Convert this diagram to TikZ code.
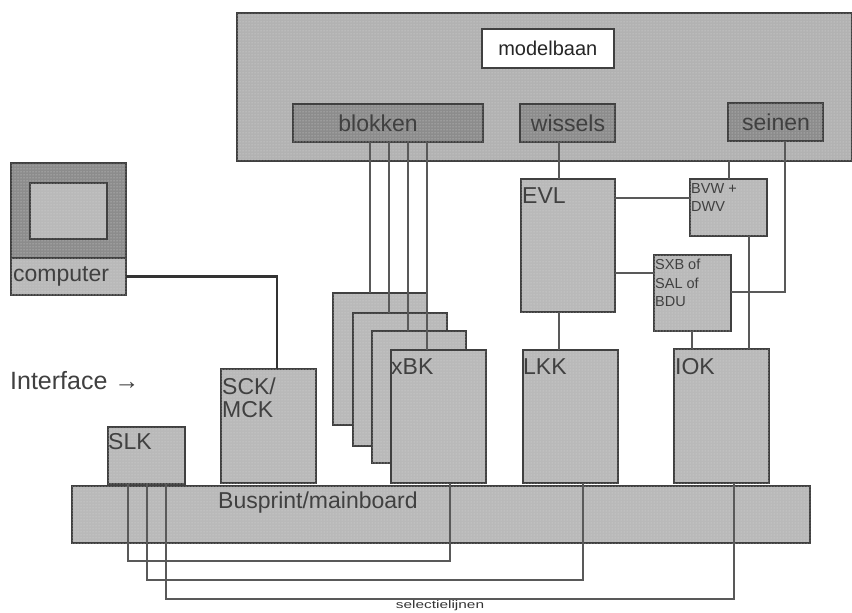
\documentclass[tikz,border=0pt]{standalone}
\usepackage{fontspec}
\setmainfont{Liberation Sans}
\newfontfamily\widefont[FakeStretch=1.4]{Liberation Sans}
\usetikzlibrary{positioning,patterns}

\begin{document}
\begin{tikzpicture}[
        x=1pt, y=-1pt,
        box/.style={draw=black!75, line width=1.6pt, fill=gray!55, anchor=north west, inner sep=0pt, outer sep=0pt,
            postaction={pattern=dots, pattern color=white!70!gray}},
        panel/.style={box, fill=gray!60},
        darkbox/.style={box, fill=gray!90},
        dims/.style 2 args={minimum width=#1 pt, minimum height=#2 pt},
        wire/.style={draw=black!65, line width=1.5pt},
        cable/.style={draw=black!80, line width=2.6pt},
        tag/.style={font=\fontsize{23}{23}\selectfont, text=black!75, inner sep=0pt, align=left},
        smalltag/.style={font=\fontsize{14.5}{18.5}\selectfont, text=black!75, inner sep=0pt, align=left}
    ]
    \useasboundingbox (0,0) rectangle (852,613);

    % --- MODELBAAN ---
    \node[panel, dims={615}{148}] (model) at (237,13) {};
    \node[draw=black!75, line width=1.6pt, fill=white, dims={132}{39}, anchor=north west, inner sep=0pt, tag, font=\fontsize{20}{20}\selectfont, text=black!85] (baan) at (481,28) {modelbaan};
    \node[darkbox, dims={190}{38}] (blokken) at (293,104) {};
    \node[darkbox, dims={95}{38}] (wissels) at (520,104) {};
    \node[darkbox, dims={95}{38}] (seinen) at (728,103) {};
    \node[tag] (blokkentxt) at (378,123) {blokken};
    \node[tag] (wisselstxt) at (568,123) {wissels};
    \node[tag] (seinentxt) at (776,122) {seinen};

    % --- COMPUTER ---
    \node[darkbox, dims={115}{95}] (scherm) at (11,163) {};
    \node[box, dims={77}{56}] (beeld) at (30,183) {};
    \node[box, dims={115}{37}] (computer) at (11,258) {};
    \node[tag, anchor=west] (computertxt) at (13,276) {computer};
    \node[tag, font=\fontsize{25}{25}\selectfont, anchor=west] (interface) at (10,381) {Interface →};

    % --- BUS ---
    \node[box, dims={738}{57}] (bus) at (72,486) {};
    \node[tag, anchor=north west] (bustxt) at (218,492) {Busprint/mainboard};

    % --- KAARTEN ---
    \node[box, dims={77}{57}] (SLK) at (108,427) {};
    \node[box, dims={95}{114}] (SCK) at (221,369) {};
    \node[box, dims={94}{132}] (BK1) at (333,293) {};
    \node[box, dims={94}{133}] (BK2) at (353,313) {};
    \node[box, dims={94}{132}] (BK3) at (372,331) {};
    \node[box, dims={95}{133}] (BK4) at (391,350) {};
    \node[box, dims={95}{133}] (LKK) at (523,350) {};
    \node[box, dims={95}{134}] (IOK) at (674,349) {};
    \node[box, dims={94}{133}] (EVL) at (521,179) {};
    \node[box, dims={77}{57}] (BVW) at (690,179) {};
    \node[box, dims={77}{76}] (SXB) at (654,255) {};

    \node[tag, anchor=north west] (slktxt) at (108,433) {SLK};
    \node[tag, anchor=north west] (scktxt) at (222,378) {SCK/\\MCK};
    \node[tag, anchor=north west] (bktxt) at (391,358) {xBK};
    \node[tag, anchor=north west] (lkktxt) at (523,358) {LKK};
    \node[tag, anchor=north west] (ioktxt) at (675,358) {IOK};
    \node[tag, anchor=north west] (evltxt) at (522,187) {EVL};
    \node[smalltag, anchor=north west] (bvwtxt) at (691,183) {BVW +\\DWV};
    \node[smalltag, anchor=north west] (sxbtxt) at (655,259) {SXB of\\SAL of\\BDU};

    % --- VERBINDINGEN ---
    \draw[cable] (computer.east) -| (SCK.north -| 277,0);

    % blokken naar xBK
    \foreach \i/\x in {1/370,2/389,3/408,4/427} {
            \draw[wire] (\x,142) -- (\x,142 |- BK\i.north);
        }

    \draw[wire] (wissels.south -| 559,0) -- (EVL.north -| 559,0);
    \draw[wire] (EVL.south -| 559,0) -- (LKK.north -| 559,0);
    \draw[wire] (EVL.east |- 0,198) -- (BVW.west |- 0,198);
    \draw[wire] (EVL.east |- 0,273) -- (SXB.west |- 0,273);
    \draw[wire] (BVW.north -| 729,0) -- (model.south -| 729,0);
    \draw[wire] (seinen.south -| 785,0) |- (SXB.east |- 0,292);
    \draw[wire] (BVW.south -| 749,0) -- (IOK.north -| 749,0);
    \draw[wire] (SXB.south -| 692,0) -- (IOK.north -| 692,0);

    % selectielijnen
    \draw[wire] (SLK.south -| 128,0) |- (450,561) -- (BK4.south -| 450,0);
    \draw[wire] (SLK.south -| 147,0) |- (583,580) -- (LKK.south -| 583,0);
    \draw[wire] (SLK.south -| 166,0) |- (734,599) -- (IOK.south -| 734,0);
    \node[font=\widefont\fontsize{11}{12}\selectfont, text=black!80, inner sep=0pt] (selectie) at (440,606) {selectielijnen};

\end{tikzpicture}
\end{document}
